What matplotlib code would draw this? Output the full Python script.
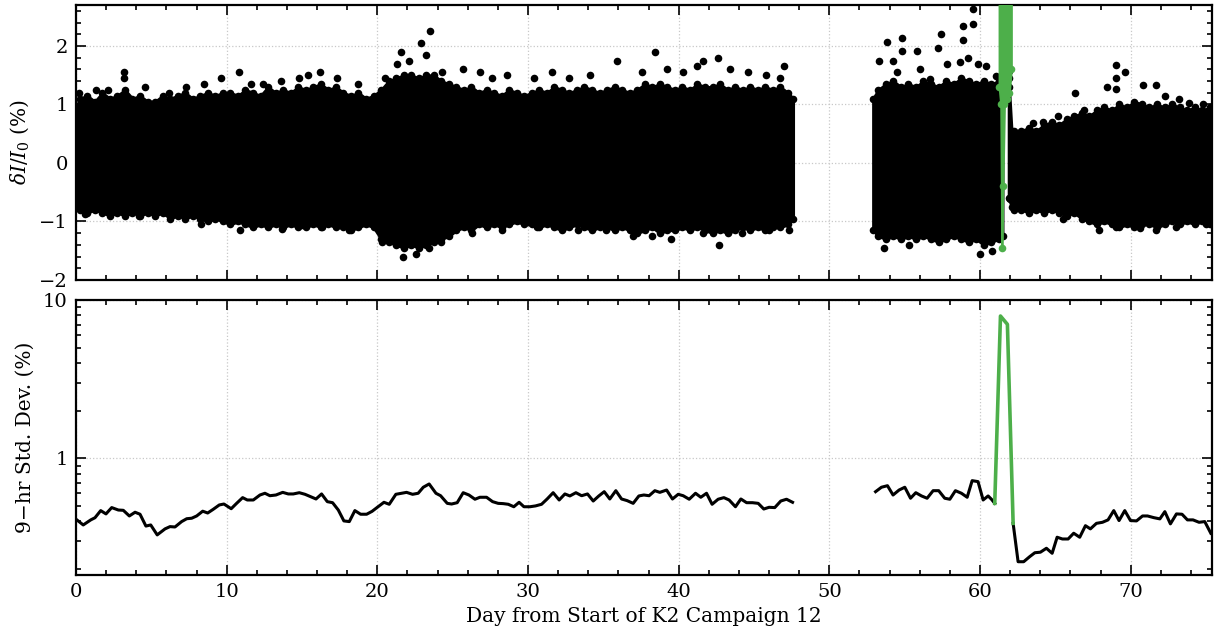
import matplotlib
matplotlib.use("Agg")
import matplotlib.pyplot as plt
from matplotlib.ticker import MultipleLocator, FixedLocator, FuncFormatter, LogLocator, NullFormatter

plt.rcParams['font.family'] = ['DejaVu Serif']
plt.rcParams['mathtext.fontset'] = 'dejavuserif'

BLACK = 'black'
GREEN = '#4daf4a'

# ---------------- top panel: light curve (outer edges of the dense band + outlying points) ----------------
lc1_day = [0, 0.25, 0.75, 1.25, 1.75, 2.25, 2.75, 3.25, 3.75, 4.25, 4.75,
           5.25, 5.75, 6.25, 6.75, 7.25, 7.75, 8.25, 8.75, 9.25, 9.75,
           10.25, 10.75, 11.25, 11.75, 12.25, 12.75, 13.25, 13.75, 14.25, 14.75,
           15.25, 15.75, 16.25, 16.75, 17.25, 17.75, 18.25, 18.75, 19.25, 19.75,
           20.25, 20.75, 21.25, 21.75, 22.25, 22.75, 23.25, 23.75, 24.25, 24.75,
           25.25, 25.75, 26.25, 26.75, 27.25, 27.75, 28.25, 28.75, 29.25, 29.75,
           30.25, 30.75, 31.25, 31.75, 32.25, 32.75, 33.25, 33.75, 34.25, 34.75,
           35.25, 35.75, 36.25, 36.75, 37.25, 37.75, 38.25, 38.75, 39.25, 39.75,
           40.25, 40.75, 41.25, 41.75, 42.25, 42.75, 43.25, 43.75, 44.25, 44.75,
           45.25, 45.75, 46.25, 46.75, 47.25, 47.6]
lc1_hi = [0.95,
          1.1, 1.15, 1.05, 1.2, 1.1, 1.15, 1.25, 1.1, 1.15, 1.05,
          1.05, 1.15, 1.1, 1.15, 1.2, 1.1, 1.15, 1.2, 1.15, 1.2,
          1.2, 1.15, 1.25, 1.2, 1.15, 1.3, 1.2, 1.25, 1.2, 1.3,
          1.25, 1.3, 1.35, 1.25, 1.3, 1.2, 1.15, 1.2, 1.1, 1.15,
          1.25, 1.4, 1.45, 1.5, 1.5, 1.45, 1.5, 1.5, 1.4, 1.35,
          1.3, 1.25, 1.3, 1.2, 1.25, 1.2, 1.15, 1.25, 1.2, 1.15,
          1.2, 1.25, 1.2, 1.3, 1.25, 1.2, 1.25, 1.3, 1.25, 1.2,
          1.25, 1.3, 1.25, 1.2, 1.25, 1.35, 1.3, 1.35, 1.3, 1.25,
          1.3, 1.25, 1.35, 1.3, 1.3, 1.35, 1.25, 1.3, 1.25, 1.3,
          1.25, 1.3, 1.25, 1.3, 1.2,
          1.1]
lc1_lo = [-0.75,
          -0.8, -0.85, -0.8, -0.85, -0.9, -0.85, -0.9, -0.85, -0.9, -0.85,
          -0.9, -0.85, -0.95, -0.9, -0.95, -0.9, -0.95, -1.0, -0.95, -1.0,
          -1.05, -1.0, -1.05, -1.1, -1.05, -1.1, -1.05, -1.1, -1.05, -1.1,
          -1.1, -1.05, -1.1, -1.05, -1.1, -1.1, -1.15, -1.1, -1.05, -1.1,
          -1.3, -1.35, -1.4, -1.45, -1.4, -1.45, -1.4, -1.35, -1.3, -1.25,
          -1.15, -1.1, -1.15, -1.05, -1.1, -1.05, -1.1, -1.05, -1.0, -1.05,
          -1.05, -1.1, -1.05, -1.1, -1.15, -1.1, -1.05, -1.1, -1.15, -1.1,
          -1.1, -1.15, -1.1, -1.15, -1.2, -1.15, -1.1, -1.2, -1.15, -1.15,
          -1.1, -1.15, -1.1, -1.15, -1.2, -1.15, -1.2, -1.15, -1.1, -1.15,
          -1.1, -1.15, -1.1, -1.1, -1.05,
          -0.95]

lc2_day = [52.9, 53.25, 53.75, 54.25, 54.75, 55.25, 55.75, 56.25, 56.75, 57.25, 57.75,
           58.25, 58.75, 59.25, 59.75, 60.25, 60.75, 61.25, 61.5]
lc2_hi = [1.1, 1.25, 1.35, 1.4, 1.3, 1.35, 1.3, 1.4, 1.35, 1.3, 1.4, 1.35, 1.45, 1.4,
          1.35, 1.4, 1.35, 1.4, 1.2]
lc2_lo = [-1.15, -1.25, -1.3, -1.25, -1.3, -1.25, -1.3, -1.25, -1.3, -1.35, -1.3, -1.25,
          -1.3, -1.35, -1.3, -1.4, -1.35, -1.3, -1.25]

lc3_day = [61.9, 62.1, 62.25, 62.75, 63.25, 63.75, 64.25, 64.75, 65.25, 65.75, 66.25,
           66.75, 67.25, 67.75, 68.25, 68.75, 69.25, 69.75, 70.25, 70.75, 71.25, 71.75,
           72.25, 72.75, 73.25, 73.75, 74.25, 74.75, 75.25, 75.5]
lc3_hi = [1.45, 0.55, 0.55, 0.55, 0.6, 0.55, 0.65, 0.7, 0.65, 0.75, 0.8, 0.85, 0.8, 0.9,
          0.95, 0.9, 1.0, 0.95, 1.05, 1.0, 0.95, 1.0, 0.95, 1.0, 0.95, 0.9, 0.95, 0.9,
          0.95, 0.9]
lc3_lo = [-0.6, -0.75, -0.8, -0.8, -0.85, -0.8, -0.85, -0.8, -0.85, -0.9, -0.85, -0.95,
          -1.0, -1.05, -1.0, -1.05, -1.1, -1.05, -1.1, -1.05, -1.05, -1.1, -1.05, -1.0,
          -1.05, -1.0, -1.05, -1.0, -1.05, -1.0]

flare_lc_day = [61.27, 61.38, 61.45, 61.52, 61.62, 61.78, 61.95, 62.08]
flare_lc_hi = [2.9, 2.9, 2.9, 2.9, 2.9, 2.9, 2.9, 2.9]
flare_lc_lo = [1.3, 1.0, -1.45, -0.4, 1.0, 1.1, 1.2, 1.6]

out_day = [0.2, 1.3, 2.1, 3.2, 3.2, 4.6, 6.2, 7.3, 8.5, 9.6, 10.8, 11.6, 12.4, 13.6,
           14.8, 15.4, 16.2, 17.3, 18.7, 20.5, 21.3, 21.6, 22.1, 22.9, 23.2, 23.5, 24.3,
           25.7, 26.8, 27.6, 28.6, 30.4, 31.6, 32.7, 34.1, 35.9, 37.6, 38.4, 39.2, 40.3,
           41.2, 41.6, 42.6, 43.4, 44.6, 45.8, 46.7, 47.0,
           0.6, 4.2, 8.3, 10.9, 13.7, 16.3, 18.1, 20.3, 21.7, 22.6, 23.4, 24.2, 26.3,
           28.3, 30.6, 33.3, 35.2, 37.0, 38.2, 39.5, 41.6, 42.7, 44.2, 46.0, 47.3,
           53.3, 53.8, 54.2, 54.85, 54.85, 55.8, 56.7, 57.2, 57.4, 58.66, 58.9, 58.9,
           59.54, 59.54, 59.9, 60.4, 61.07, 54.5, 56.0, 57.8, 59.2, 60.0, 60.8, 53.6,
           55.3, 61.9, 61.95, 63.5, 66.3, 66.9, 68.4, 69.0, 69.0, 69.6, 69.05, 70.8,
           71.7, 73.2, 73.9, 64.2, 65.2, 72.3, 74.8,
           62.0, 67.9, 70.6, 71.7, 69.0, 73.0, 75.0, 65.5]
out_pct = [1.2, 1.25, 1.25, 1.55, 1.45, 1.3, 1.2, 1.3, 1.35, 1.45, 1.55, 1.35, 1.35, 1.4,
           1.45, 1.5, 1.55, 1.45, 1.35, 1.45, 1.7, 1.9, 1.75, 2.05, 1.85, 2.25, 1.55,
           1.6, 1.55, 1.45, 1.5, 1.45, 1.55, 1.45, 1.5, 1.75, 1.55, 1.9, 1.6, 1.55,
           1.65, 1.75, 1.8, 1.6, 1.55, 1.5, 1.45, 1.65,
           -0.87, -0.9, -1.05, -1.15, -1.12, -1.1, -1.15, -1.35, -1.6, -1.55, -1.45,
           -1.35, -1.2, -1.15, -1.1, -1.15, -1.15, -1.25, -1.25, -1.3, -1.2, -1.4, -1.2,
           -1.15, -1.15,
           1.75, 2.06, 1.74, 2.13, 1.91, 1.91, 1.43, 1.97, 2.21, 1.72, 2.34, 2.1,
           2.63, 2.37, 1.69, 1.66, 1.49, 1.55, 1.6, 1.7, 1.8, -1.55, -1.5, -1.45,
           -1.4, 1.57, 1.3, 0.69, 1.2, 0.91, 1.3, 1.67, 1.46, 1.55, 1.27, 1.33,
           1.34, 1.1, 1.02, 0.7, 0.8, 1.15, 1.0,
           -0.61, -1.14, -1.11, -1.14, -1.1, -1.1, -1.05, -0.95]

# ---------------- bottom panel: 9-hr standard deviation ----------------
std_day = [0.0, 0.48, 0.98, 1.26, 1.64, 1.99, 2.37, 2.81, 3.14, 3.54, 3.92, 4.25, 4.64,
           4.96, 5.39, 5.91, 6.24, 6.57, 7.01, 7.35, 7.68, 8.01, 8.41, 8.74, 9.11, 9.51,
           9.82, 10.3, 10.66, 11.06, 11.37, 11.77, 12.21, 12.54, 12.87, 13.27, 13.72,
           14.09, 14.42, 14.82, 15.2, 15.57, 15.93, 16.3, 16.68, 17.03, 17.41, 17.78,
           18.14, 18.51, 18.89, 19.29, 19.65, 20.0, 20.44, 20.79, 21.23, 21.61, 21.94,
           22.34, 22.71, 23.05, 23.44, 23.89, 24.2, 24.64, 24.93, 25.3, 25.7, 26.08,
           26.48, 26.81, 27.25, 27.65, 28.02, 28.35, 28.69, 29.06, 29.41, 29.73, 30.13,
           30.5, 30.9, 31.27, 31.67, 32.07, 32.45, 32.78, 33.18, 33.56, 33.95, 34.33,
           34.7, 35.06, 35.43, 35.83, 36.21, 36.58, 36.98, 37.36, 37.69, 38.04, 38.42,
           38.75, 39.2, 39.59, 39.97, 40.3, 40.7, 41.12, 41.47, 41.85, 42.22, 42.62,
           43.0, 43.35, 43.77, 44.13, 44.51, 44.9, 45.28, 45.65, 46.0, 46.38, 46.78,
           47.16, 47.56]
std_pct = [0.412, 0.379, 0.408, 0.421, 0.467, 0.445, 0.488, 0.471, 0.469, 0.432, 0.456,
           0.443, 0.373, 0.379, 0.328, 0.358, 0.370, 0.368, 0.398, 0.415, 0.418, 0.432,
           0.463, 0.451, 0.476, 0.507, 0.514, 0.480, 0.519, 0.564, 0.545, 0.545, 0.586,
           0.601, 0.580, 0.586, 0.609, 0.595, 0.595, 0.606, 0.592, 0.572, 0.553, 0.595,
           0.532, 0.524, 0.471, 0.402, 0.398, 0.467, 0.443, 0.443, 0.462, 0.490, 0.527,
           0.512, 0.592, 0.601, 0.609, 0.592, 0.601, 0.656, 0.688, 0.601, 0.580, 0.519,
           0.514, 0.524, 0.606, 0.586, 0.551, 0.567, 0.567, 0.532, 0.519, 0.517, 0.512,
           0.494, 0.527, 0.494, 0.494, 0.500, 0.512, 0.553, 0.606, 0.545, 0.595, 0.578,
           0.606, 0.580, 0.595, 0.537, 0.578, 0.615, 0.553, 0.624, 0.553, 0.540, 0.519,
           0.578, 0.586, 0.580, 0.624, 0.609, 0.630, 0.553, 0.592, 0.580, 0.551, 0.601,
           0.567, 0.601, 0.512, 0.551, 0.564, 0.545, 0.494, 0.553, 0.524, 0.524, 0.519,
           0.478, 0.490, 0.488, 0.537, 0.551, 0.527]

std2_day = [53.07, 53.46, 53.86, 54.23, 54.63, 55.01, 55.39, 55.74, 56.12, 56.49, 56.89,
            57.26, 57.66, 58.0, 58.37, 58.77, 59.15, 59.48, 59.87, 60.21, 60.54, 60.76,
            60.98]
std2_pct = [0.615, 0.656, 0.671, 0.586, 0.630, 0.656, 0.559, 0.606, 0.578, 0.559, 0.624,
            0.624, 0.559, 0.551, 0.624, 0.601, 0.567, 0.722, 0.712, 0.545, 0.578, 0.551,
            0.519]

flare_day = [60.98, 61.36, 61.82, 62.2]
flare_pct = [0.519, 7.92, 7.02, 0.388]

std3_day = [62.2, 62.53, 62.9, 63.3, 63.64, 64.01, 64.41, 64.79, 65.12, 65.47, 65.85,
            66.22, 66.62, 67.0, 67.33, 67.73, 68.13, 68.5, 68.88, 69.23, 69.61, 69.99,
            70.39, 70.79, 71.12, 71.54, 71.94, 72.27, 72.64, 73.04, 73.41, 73.77, 74.14,
            74.54, 74.92, 75.32]
std3_pct = [0.388, 0.222, 0.222, 0.239, 0.253, 0.255, 0.270, 0.251, 0.317, 0.309, 0.309,
            0.336, 0.317, 0.375, 0.358, 0.388, 0.394, 0.408, 0.467, 0.404, 0.467, 0.404,
            0.402, 0.432, 0.432, 0.4215, 0.414, 0.460, 0.385, 0.445, 0.443, 0.408, 0.408,
            0.394, 0.398, 0.336]

x_major = [0, 10, 20, 30, 40, 50, 60, 70]
x_labels = ['0', '10', '20', '30', '40', '50', '60', '70']

# ---------------- figure ----------------
W, H = 1214, 633
fig = plt.figure(figsize=(W / 100, H / 100), dpi=100)
ax1 = fig.add_axes([76 / W, (H - 280) / H, (1212 - 76) / W, 275 / H])
ax2 = fig.add_axes([76 / W, (H - 575) / H, (1212 - 76) / W, 275 / H])

FS = 14
FSL = 14.5
MS = 30

for d, hi, lo in [(lc1_day, lc1_hi, lc1_lo), (lc2_day, lc2_hi, lc2_lo), (lc3_day, lc3_hi, lc3_lo)]:
    ax1.fill_between(d, lo, hi, color=BLACK, lw=2.0, zorder=2)
    ax1.scatter(d, hi, s=MS, color=BLACK, lw=0, zorder=2)
    ax1.scatter(d, lo, s=MS, color=BLACK, lw=0, zorder=2)

ax1.scatter(out_day, out_pct, s=MS, color=BLACK, lw=0, zorder=2)
ax1.fill_between(flare_lc_day, flare_lc_lo, flare_lc_hi, color=GREEN, lw=1.5, zorder=3)
ax1.scatter(flare_lc_day, flare_lc_lo, s=MS, color=GREEN, lw=0, zorder=3)

ax2.plot(std_day, std_pct, color=BLACK, lw=2.2, zorder=3)
ax2.plot(std2_day, std2_pct, color=BLACK, lw=2.2, zorder=3)
ax2.plot(std3_day, std3_pct, color=BLACK, lw=2.2, zorder=3)
ax2.plot(flare_day, flare_pct, color=GREEN, lw=2.6, zorder=4)

ax1.set_xlim(0, 75.4)
ax2.set_xlim(0, 75.4)
ax1.set_ylim(-2, 2.7)
ax2.set_yscale('log')
ax2.set_ylim(0.183, 10)

for ax in (ax1, ax2):
    ax.xaxis.set_major_locator(FixedLocator(x_major))
    ax.xaxis.set_minor_locator(MultipleLocator(2))
    ax.tick_params(which='both', direction='in', top=True, right=True,
                   labelsize=FS, width=1.2, pad=6)
    ax.tick_params(which='major', length=7)
    ax.tick_params(which='minor', length=3.5)
    for s in ax.spines.values():
        s.set_linewidth(1.6)
    ax.grid(True, which='major', linestyle=':', color='#c8c8c8', lw=0.9)
    ax.set_axisbelow(True)

ax1.set_xticklabels([])
ax2.set_xticklabels(x_labels)
ax1.yaxis.set_major_locator(MultipleLocator(1))
ax1.yaxis.set_minor_locator(MultipleLocator(0.2))
ax2.yaxis.set_major_locator(FixedLocator([1, 10]))
ax2.yaxis.set_major_formatter(FuncFormatter(lambda v, p: '%d' % v))
ax2.yaxis.set_minor_locator(LogLocator(base=10, subs=[2, 3, 4, 5, 6, 7, 8, 9]))
ax2.yaxis.set_minor_formatter(NullFormatter())

ax1.set_ylabel(r'$\delta I/I_0$ (%)', fontsize=FSL, labelpad=6)
ax2.set_ylabel('9\u2212hr Std. Dev. (%)', fontsize=FSL, labelpad=6)
ax2.set_xlabel('Day from Start of K2 Campaign 12', fontsize=FSL, labelpad=4)

fig.savefig('out.png', dpi=100)
